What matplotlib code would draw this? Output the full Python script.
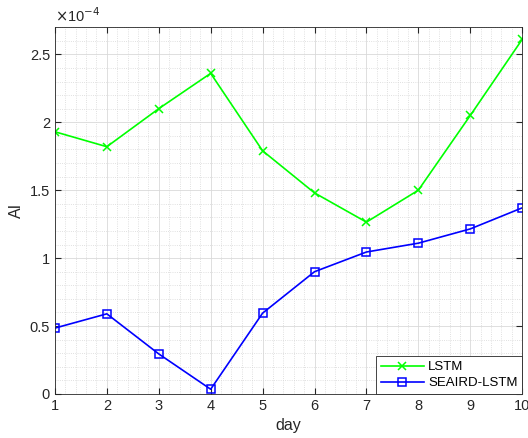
import matplotlib
matplotlib.use('Agg')
import matplotlib.pyplot as plt
from matplotlib.ticker import FuncFormatter, MultipleLocator

plt.rcParams['font.family'] = ['Liberation Sans', 'DejaVu Sans']

days = [1, 2, 3, 4, 5, 6, 7, 8, 9, 10]
lstm = [1.93e-4, 1.82e-4, 2.10e-4, 2.36e-4, 1.79e-4, 1.48e-4, 1.265e-4, 1.50e-4, 2.05e-4, 2.61e-4]
seaird = [0.485e-4, 0.59e-4, 0.295e-4, 0.035e-4, 0.595e-4, 0.90e-4, 1.045e-4, 1.11e-4, 1.215e-4, 1.37e-4]

fig = plt.figure(figsize=(5.28, 4.38), dpi=100)
ax = fig.add_axes([0.104, 0.1005, 0.885, 0.8375])

ax.plot(days, lstm, color=(0, 1, 0), lw=1.2, marker='x', ms=6, mew=1.1, label='LSTM')
ax.plot(days, seaird, color=(0, 0, 1), lw=1.2, marker='s', ms=6, mfc='none', mew=1.1,
        label='SEAIRD-LSTM')

ax.set_xlim(1, 10)
ax.set_ylim(0, 2.7e-4)
ax.xaxis.set_major_locator(MultipleLocator(1))
ax.xaxis.set_minor_locator(MultipleLocator(0.2))
ax.yaxis.set_major_locator(MultipleLocator(0.5e-4))
ax.yaxis.set_minor_locator(MultipleLocator(0.1e-4))
ax.yaxis.set_major_formatter(FuncFormatter(lambda v, p: '%g' % round(v * 1e4, 3)))

ax.grid(which='major', color='#d9d9d9', lw=0.6)
ax.grid(which='minor', color='#d6d6d6', lw=0.6, ls=':')
ax.set_axisbelow(True)
ax.tick_params(which='both', direction='in', top=True, right=True, colors='#262626',
               labelsize=10.5, labelcolor='#262626')
ax.tick_params(which='minor', length=0)
ax.tick_params(which='major', length=4)
for s in ax.spines.values():
    s.set_color('#262626')
    s.set_linewidth(0.6)

ax.set_xlabel('day', fontsize=11.5, color='#262626')
ax.set_ylabel('AI', fontsize=11.5, color='#262626')
ax.text(0, 1.005, r'$\times$10$^{-4}$', transform=ax.transAxes, fontsize=10.5,
        color='#262626', va='bottom', ha='left')

leg = ax.legend(loc='lower right', fontsize=9.5, fancybox=False, framealpha=1,
                edgecolor='#262626', borderaxespad=0, handlelength=3.3,
                handletextpad=0.3, borderpad=0.35, labelspacing=0.3)
leg.get_frame().set_linewidth(0.6)

fig.savefig('out.png', dpi=100)
